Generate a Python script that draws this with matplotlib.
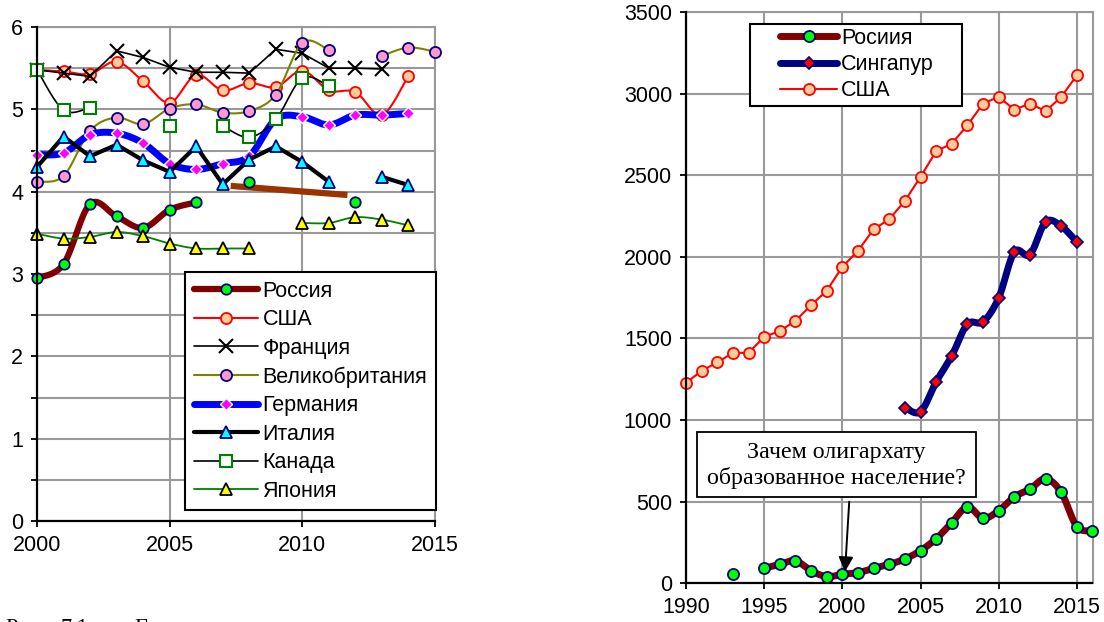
import numpy as np
import matplotlib
matplotlib.use('Agg')
import matplotlib.pyplot as plt
from matplotlib.lines import Line2D
from matplotlib.patches import Rectangle

plt.rcParams['font.family'] = ['Liberation Sans', 'DejaVu Sans']

nan = np.nan

# ---------------- left chart data ----------------
years_left = [2000, 2001, 2002, 2003, 2004, 2005, 2006, 2007,
              2008, 2009, 2010, 2011, 2012, 2013, 2014, 2015]
russia_l = [2.95, 3.12, 3.85, 3.70, 3.56, 3.78, 3.87, nan, 4.12, nan, nan, nan, 3.87, nan, nan, nan]
usa_l = [5.48, 5.46, 5.43, 5.58, 5.34, 5.08, 5.42, 5.23, 5.32, 5.27, 5.47, 5.23, 5.21, 4.93, 5.41, nan]
france_l = [5.48, 5.44, 5.40, 5.71, 5.63, 5.51, 5.45, 5.45, 5.44, 5.73, 5.68, 5.50, 5.50, 5.49, nan, nan]
uk_l = [4.12, 4.19, 4.74, 4.90, 4.82, 5.01, 5.06, 4.96, 4.98, 5.18, 5.81, 5.72, nan, 5.65, 5.75, 5.70]
germany_l = [4.45, 4.47, 4.69, 4.71, 4.59, 4.34, 4.27, 4.34, 4.43, 4.88, 4.91, 4.81, 4.93, 4.93, 4.95, nan]
italy_l = [4.30, 4.67, 4.43, 4.57, 4.38, 4.24, 4.55, 4.09, 4.39, 4.55, 4.36, 4.12, nan, 4.18, 4.08, nan]
canada_l = [5.48, 4.99, 5.02, nan, nan, 4.80, nan, 4.80, 4.66, 4.88, 5.38, 5.28, nan, nan, nan, nan]
japan_l = [3.49, 3.43, 3.45, 3.51, 3.46, 3.37, 3.31, 3.31, 3.31, nan, 3.62, 3.62, 3.69, 3.66, 3.59, nan]
russia_trend_x = [2007.3, 2011.7]
russia_trend_y = [4.07, 3.96]
labels_left = ['Россия', 'США', 'Франция', 'Великобритания', 'Германия', 'Италия', 'Канада', 'Япония']
xticks_left = [2000, 2005, 2010, 2015]

# ---------------- right chart data ----------------
years_right = [1990, 1991, 1992, 1993, 1994, 1995, 1996, 1997, 1998, 1999, 2000, 2001, 2002, 2003,
               2004, 2005, 2006, 2007, 2008, 2009, 2010, 2011, 2012, 2013, 2014, 2015, 2016]
russia_r = [nan, nan, nan, 55, nan, 92, 116, 138, 77, 41, 55, 65, 92, 116,
            149, 200, 273, 371, 469, 398, 445, 530, 577, 641, 557, 347, 322]
singapore_r = [nan, nan, nan, nan, nan, nan, nan, nan, nan, nan, nan, nan, nan, nan,
               1077, 1051, 1234, 1394, 1588, 1602, 1749, 2030, 2014, 2214, 2188, 2090, nan]
usa_r = [1228, 1302, 1353, 1412, 1412, 1510, 1545, 1608, 1704, 1792, 1939, 2037, 2169, 2230,
         2343, 2490, 2647, 2694, 2806, 2939, 2980, 2902, 2939, 2892, 2980, 3112, nan]
labels_right = ['Росиия', 'Сингапур', 'США']
xticks_right = [1990, 1995, 2000, 2005, 2010, 2015]
annot_text = 'Зачем олигархату\nобразованное население?'
caption_parts = ['Рис.', '7.1.', 'Г']

GRID = '#999999'
FS = 15.5


def smooth_curve(xs, ys, n=20):
    """Excel-like smoothed line (cubic Bezier through the points)."""
    px, py = [], []
    m = len(xs)
    for i in range(m - 1):
        x0, y0 = (xs[i - 1], ys[i - 1]) if i > 0 else (xs[i], ys[i])
        x1, y1 = xs[i], ys[i]
        x2, y2 = xs[i + 1], ys[i + 1]
        x3, y3 = (xs[i + 2], ys[i + 2]) if i + 2 < m else (x2, y2)
        c1x, c1y = x1 + (x2 - x0) / 6, y1 + (y2 - y0) / 6
        c2x, c2y = x2 - (x3 - x1) / 6, y2 - (y3 - y1) / 6
        t = np.linspace(0, 1, n)
        bx = (1 - t) ** 3 * x1 + 3 * (1 - t) ** 2 * t * c1x + 3 * (1 - t) * t ** 2 * c2x + t ** 3 * x2
        by = (1 - t) ** 3 * y1 + 3 * (1 - t) ** 2 * t * c1y + 3 * (1 - t) * t ** 2 * c2y + t ** 3 * y2
        px.extend(bx if i == 0 else bx[1:])
        py.extend(by if i == 0 else by[1:])
    return np.array(px), np.array(py)


def draw_series(ax, x, y, color, lw, marker, mfc, mec, ms, mew, smooth, z):
    x = np.asarray(x, float)
    y = np.asarray(y, float)
    valid = ~np.isnan(y)
    idx = np.where(valid)[0]
    runs = np.split(idx, np.where(np.diff(idx) != 1)[0] + 1)
    for r in runs:
        if len(r) < 2:
            continue
        sx, sy = x[r], y[r]
        if smooth:
            sx, sy = smooth_curve(sx, sy)
        ax.plot(sx, sy, color=color, lw=lw, zorder=z, solid_capstyle='round',
                solid_joinstyle='round', clip_on=False)
    ax.plot(x[valid], y[valid], ls='none', marker=marker, mfc=mfc, mec=mec, ms=ms,
            mew=mew, zorder=z + 0.5, clip_on=False)
    return Line2D([], [], color=color, lw=lw, marker=marker, mfc=mfc, mec=mec,
                  ms=ms, mew=mew, solid_capstyle='round')


def style_axes(ax):
    for s in ['left', 'bottom']:
        ax.spines[s].set_color('black')
        ax.spines[s].set_linewidth(1.6)
        ax.spines[s].set_zorder(20)
    for s in ['top', 'right']:
        ax.spines[s].set_color(GRID)
        ax.spines[s].set_linewidth(1.5)
    ax.tick_params(which='both', direction='out', length=4, width=1.3, color='black',
                   labelsize=FS, pad=6)
    ax.set_axisbelow(True)


fig = plt.figure(figsize=(11.04, 6.22), dpi=100)

# ================= LEFT =================
ax1 = fig.add_axes([37 / 1104, 1 - 521 / 622, (435 - 37) / 1104, (521 - 27) / 622])
ax1.set_xlim(2000, 2015)
ax1.set_ylim(0, 6)
ax1.set_xticks(xticks_left)
ax1.set_yticks(range(0, 7))
ax1.set_yticks(np.arange(0.5, 6, 1), minor=True)
ax1.grid(axis='y', which='both', color=GRID, lw=1.5)
ax1.grid(axis='x', which='major', color=GRID, lw=1.5)
style_axes(ax1)

h = []
h.append(draw_series(ax1, years_left, russia_l, '#800000', 4.5, 'o', '#00FF00', '#000080', 7.5, 1.3, True, 3))
h.append(draw_series(ax1, years_left, usa_l, '#FF0000', 1.5, 'o', '#FFCC99', '#FF0000', 8, 1.3, True, 4))
h.append(draw_series(ax1, years_left, france_l, '#000000', 1.2, 'x', 'none', '#000000', 10, 1.5, False, 5))
h.append(draw_series(ax1, years_left, uk_l, '#808000', 1.5, 'o', '#FF99CC', '#000080', 8, 1.3, True, 6))
h.append(draw_series(ax1, years_left, germany_l, '#0000FF', 5, 'D', '#FF00FF', '#FFFFFF', 6.5, 1.0, True, 7))
h.append(draw_series(ax1, years_left, italy_l, '#000000', 3, '^', '#00FFFF', '#000080', 9, 1.3, False, 8))
h.append(draw_series(ax1, years_left, canada_l, '#000000', 1.2, 's', '#FFFFFF', '#008000', 8, 1.5, True, 9))
h.append(draw_series(ax1, years_left, japan_l, '#008000', 1.3, '^', '#FFFF00', '#000000', 9, 1.3, True, 10))
ax1.plot(russia_trend_x, russia_trend_y, color='#993300', lw=4.5, zorder=3.2, solid_capstyle='butt')

leg1 = ax1.legend(h, labels_left, loc='upper left', bbox_to_anchor=((185 - 37) / 398, (521 - 272) / 494),
                  fontsize=FS, frameon=True, fancybox=False, framealpha=1, edgecolor='black',
                  borderpad=0.4, handlelength=3.0, handletextpad=0.2, labelspacing=0.35,
                  numpoints=1, borderaxespad=0)
leg1.get_frame().set_linewidth(1.5)
leg1.set_zorder(30)

# ================= RIGHT =================
ax2 = fig.add_axes([686 / 1104, 1 - 583.3 / 622, (1092.5 - 686) / 1104, (583.3 - 12) / 622])
ax2.set_xlim(1990, 2016)
ax2.set_ylim(0, 3500)
ax2.set_xticks(xticks_right)
ax2.set_yticks(range(0, 3501, 500))
ax2.grid(True, color=GRID, lw=1.5)
style_axes(ax2)

h2 = []
h2.append(draw_series(ax2, years_right, russia_r, '#800000', 5, 'o', '#00FF00', '#000080', 8, 1.3, True, 3))
h2.append(draw_series(ax2, years_right, singapore_r, '#000080', 5, 'D', '#FF0000', '#000080', 6.5, 1.2, True, 4))
h2.append(draw_series(ax2, years_right, usa_r, '#FF0000', 1.5, 'o', '#FFCC99', '#FF0000', 8, 1.3, False, 5))

x0 = (750 - 686) / 406.5
x1 = (961.7 - 686) / 406.5
ytop = (583.3 - 24) / 571.3
ybot = (583.3 - 106) / 571.3
ax2.add_patch(Rectangle((x0, ybot), x1 - x0, ytop - ybot, transform=ax2.transAxes,
                        facecolor='white', edgecolor='black', lw=1.5, zorder=25, clip_on=False))
leg2 = ax2.legend(h2, labels_right, loc='upper left', bbox_to_anchor=((780 - 686) / 406.5, (583.3 - 28) / 571.3),
                  fontsize=FS, frameon=False, borderpad=0, handlelength=2.65, handletextpad=0.2,
                  labelspacing=0.24, numpoints=1, borderaxespad=0)
leg2.set_zorder(30)

# annotation box with arrow
bx0 = 1990 + (697 - 686) / 15.635
bx1 = 1990 + (975.7 - 686) / 15.635
by0 = (583.3 - 496.7) / 0.16333
by1 = (583.3 - 431.7) / 0.16333
ax2.add_patch(Rectangle((bx0, by0), bx1 - bx0, by1 - by0, facecolor='white',
                        edgecolor='black', lw=1.3, zorder=25))
ax2.text((bx0 + bx1) / 2, (by0 + by1) / 2 - 8, annot_text, ha='center', va='center',
         fontsize=17.3, family=['Liberation Serif', 'DejaVu Serif'], linespacing=1.2, zorder=26)
ax2.annotate('', xy=(2000.17, 71), xytext=(2000.44, 500),
             arrowprops=dict(arrowstyle='-|>', color='black', lw=1.4, mutation_scale=22,
                             shrinkA=0, shrinkB=0), zorder=26)

# caption (cut off at the bottom of the picture, as in the source)
cap_x = [5, 60, 134]
for txt, px in zip(caption_parts, cap_x):
    fig.text(px / 1104, 1 - 633 / 622, txt, ha='left', va='baseline', fontsize=16,
             family=['Liberation Serif', 'DejaVu Serif'])

fig.savefig('out.png', dpi=100)
